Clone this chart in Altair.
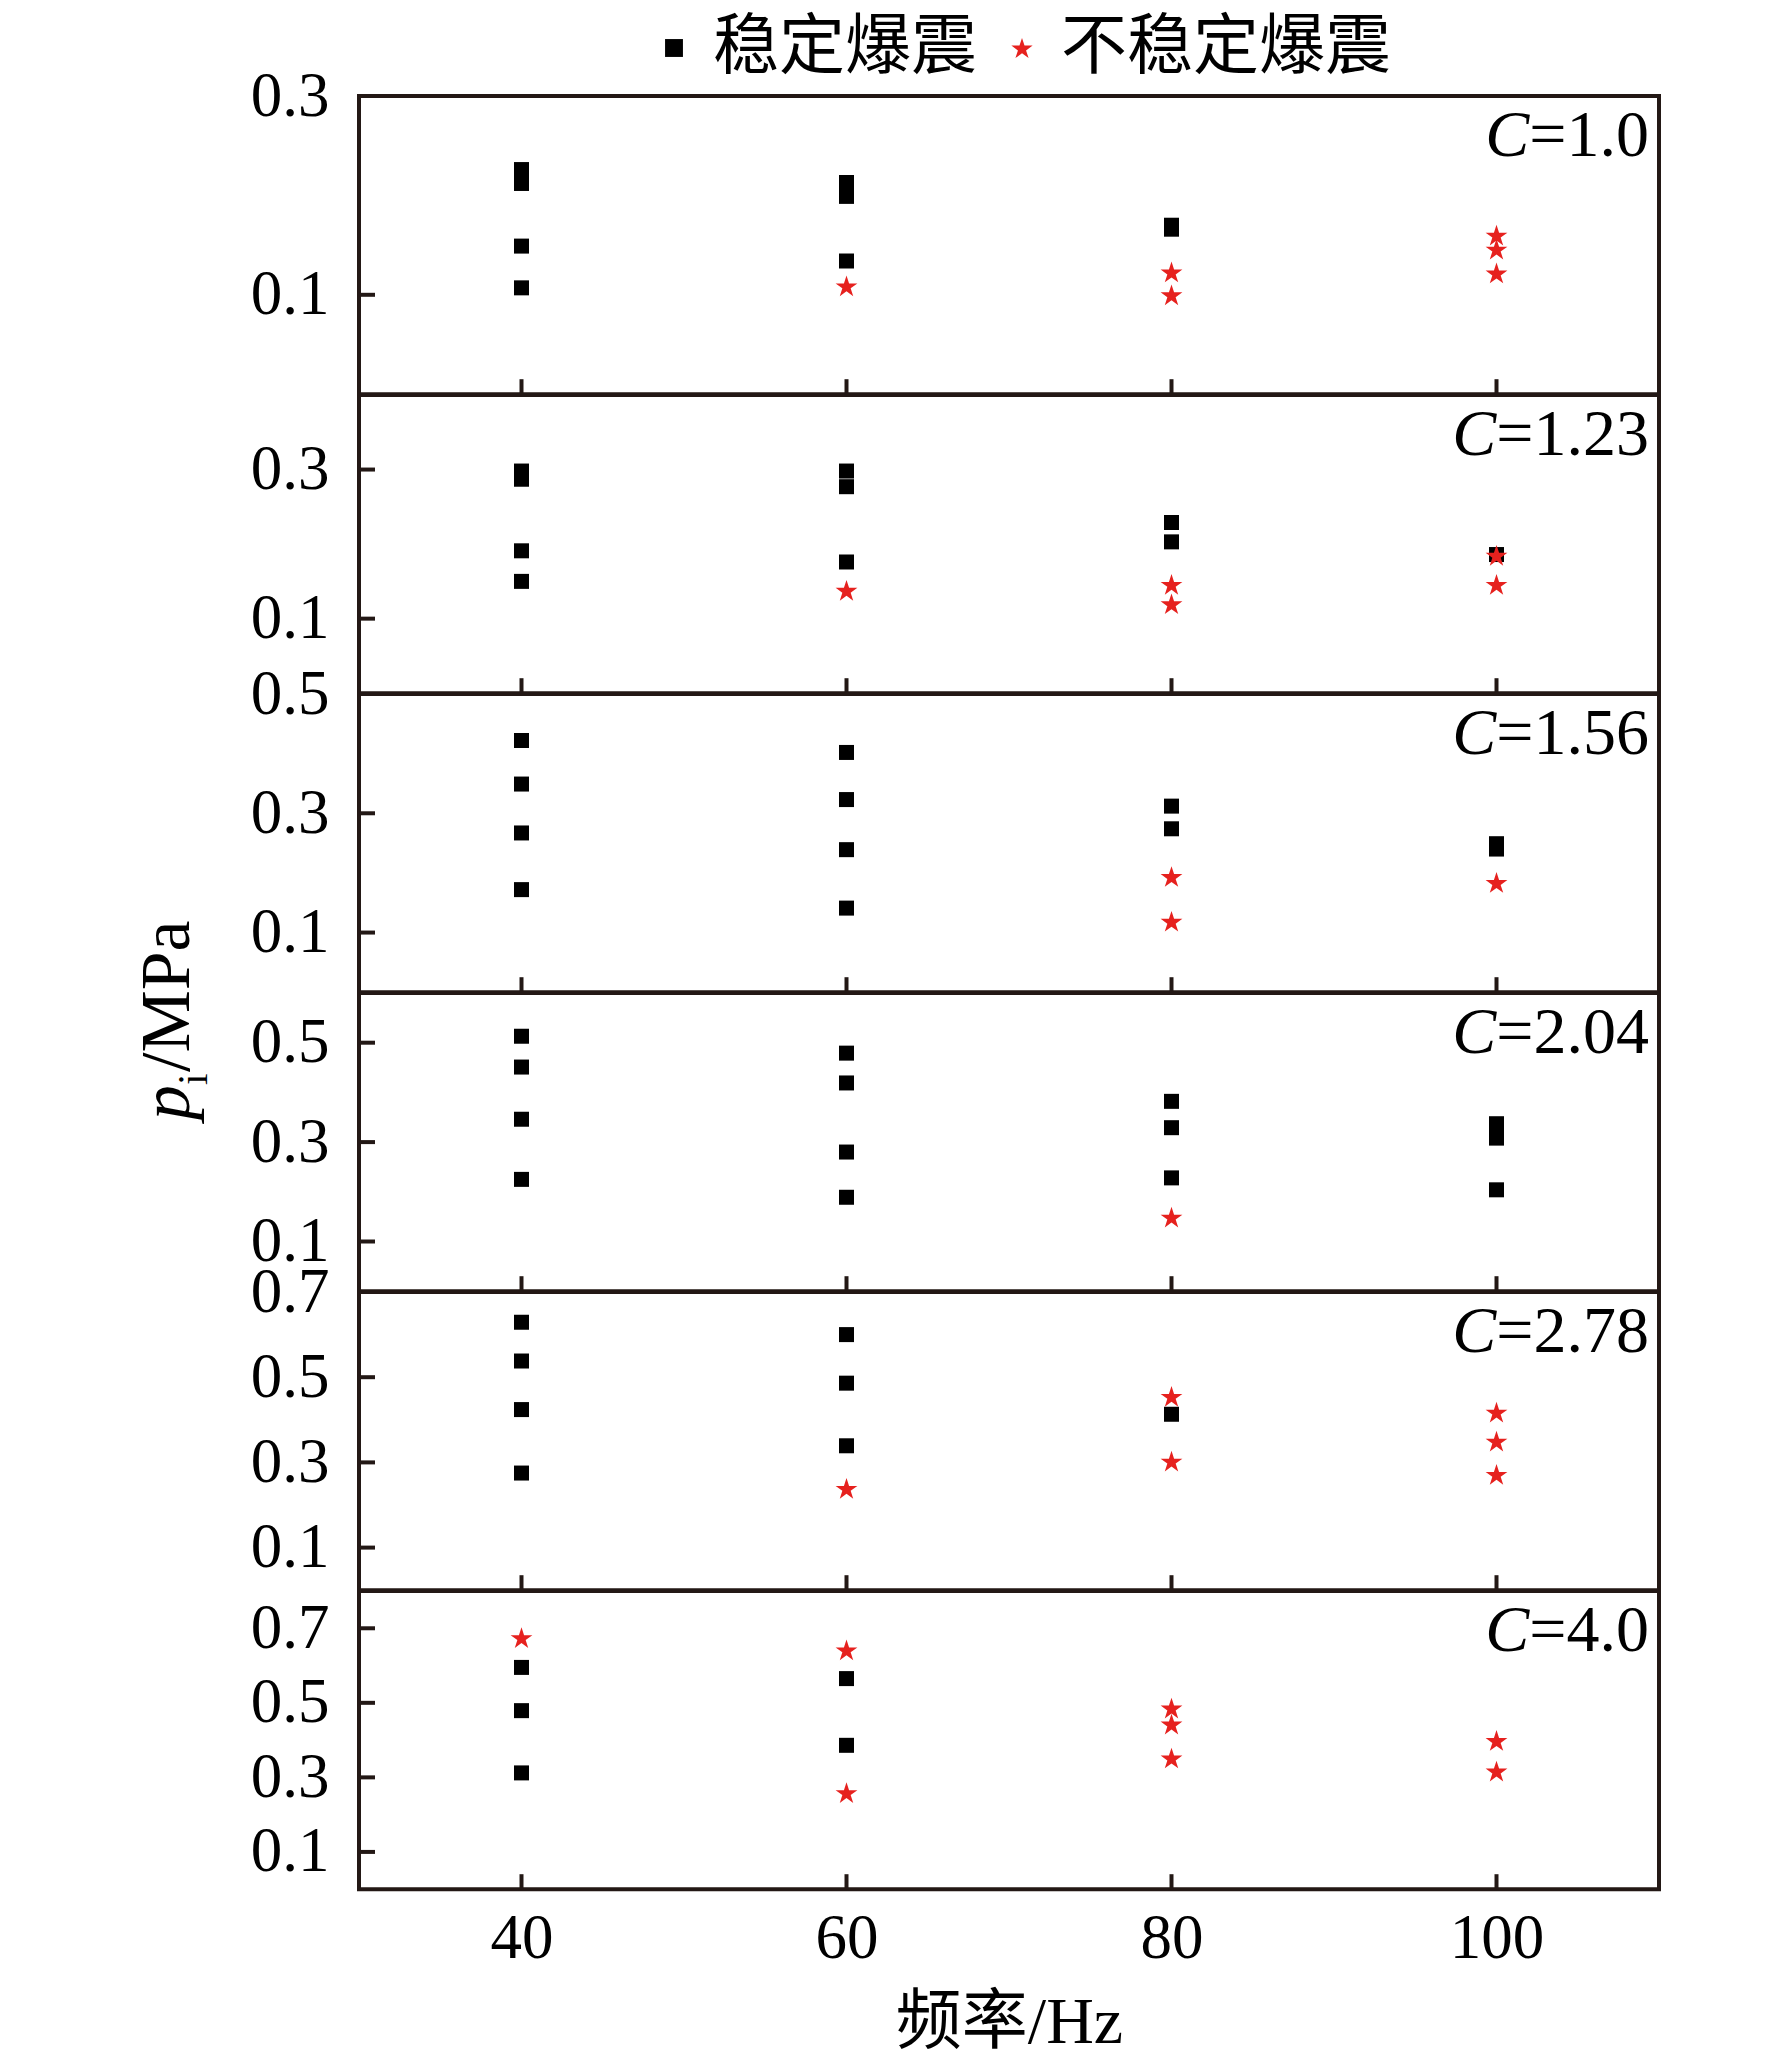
import altair as alt
import pandas as pd

# ---------------- data ----------------
FREQS = [40, 60, 80, 100]
C_LABELS = ["1.0", "1.23", "1.56", "2.04", "2.78", "4.0"]
Y_MAX = [0.3, 0.4, 0.5, 0.6, 0.7, 0.8]
Y_TICKS = [
    [0.1, 0.3],
    [0.1, 0.3],
    [0.1, 0.3, 0.5],
    [0.1, 0.3, 0.5],
    [0.1, 0.3, 0.5, 0.7],
    [0.1, 0.3, 0.5, 0.7],
]
KINDS = ["稳定爆震", "不稳定爆震"]

# stable detonation (black squares): {frequency: [p_i, ...]}
stable_c100 = {40: [0.226, 0.212, 0.149, 0.107], 60: [0.213, 0.199, 0.134], 80: [0.170, 0.166], 100: []}
stable_c123 = {40: [0.298, 0.287, 0.191, 0.150], 60: [0.298, 0.277, 0.176], 80: [0.229, 0.203], 100: [0.186]}
stable_c156 = {40: [0.422, 0.349, 0.267, 0.172], 60: [0.402, 0.323, 0.239, 0.141], 80: [0.312, 0.274], 100: [0.249, 0.240]}
stable_c204 = {40: [0.513, 0.451, 0.346, 0.225], 60: [0.479, 0.419, 0.280, 0.189], 80: [0.382, 0.329, 0.228], 100: [0.337, 0.308, 0.204]}
stable_c278 = {40: [0.629, 0.538, 0.424, 0.275], 60: [0.600, 0.486, 0.339], 80: [0.413], 100: []}
stable_c400 = {40: [0.595, 0.479, 0.312], 60: [0.565, 0.386], 80: [], 100: []}

# unstable detonation (red stars)
unstable_c100 = {40: [], 60: [0.109], 80: [0.123, 0.100], 100: [0.160, 0.146, 0.122]}
unstable_c123 = {40: [], 60: [0.138], 80: [0.146, 0.120], 100: [0.185, 0.146]}
unstable_c156 = {40: [], 60: [], 80: [0.194, 0.119], 100: [0.184]}
unstable_c204 = {40: [], 60: [], 80: [0.149], 100: []}
unstable_c278 = {40: [], 60: [0.239], 80: [0.455, 0.303], 100: [0.418, 0.350, 0.272]}
unstable_c400 = {40: [0.675], 60: [0.642, 0.259], 80: [0.486, 0.443, 0.352], 100: [0.399, 0.317]}

STABLE = [stable_c100, stable_c123, stable_c156, stable_c204, stable_c278, stable_c400]
UNSTABLE = [unstable_c100, unstable_c123, unstable_c156, unstable_c204, unstable_c278, unstable_c400]

# ---------------- style ----------------
W, H = 1300, 298.2
DARK = "#231815"
RED = "#e6211e"
SERIF = "Liberation Serif"
CJK = "Noto Sans CJK SC"
NUM_SIZE = 63
LAB_SIZE = 66

# five-pointed star, drawn a bit larger than the unit box so the legend star reads well
_k = 1.25
_pts = [(0, -0.905), (0.2245, -0.214), (0.951, -0.214), (0.363, 0.214), (0.588, 0.905),
        (0, 0.477), (-0.588, 0.905), (-0.363, 0.214), (-0.951, -0.214), (-0.2245, -0.214)]
STAR = "M" + " L".join(f"{x * _k:.4f},{y * _k:.4f}" for x, y in _pts) + " Z"

TIMES_W = {"=": 0.564, ".": 0.25}


def text_width(s, size):
    return sum(TIMES_W.get(ch, 0.5) for ch in s) * size


color_scale = alt.Scale(domain=KINDS, range=["#000000", RED])
shape_scale = alt.Scale(domain=KINDS, range=["square", STAR])
legend = alt.Legend(
    orient="none", legendX=282, legendY=-81, direction="horizontal", title=None,
    labelFont=CJK, labelFontSize=66, labelColor="black", labelLimit=1000,
    symbolSize=320, symbolStrokeWidth=0, labelOffset=6, columnPadding=12, padding=0,
)


def panel(i):
    rows = []
    for kind, src in ((KINDS[0], STABLE[i]), (KINDS[1], UNSTABLE[i])):
        for f in FREQS:
            for p in src[f]:
                rows.append({"freq": f, "p": p, "kind": kind})
    df = pd.DataFrame(rows)
    last = i == len(C_LABELS) - 1

    xs = alt.Scale(domain=[30, 110], nice=False, zero=False)
    ys = alt.Scale(domain=[0, Y_MAX[i]], nice=False, zero=False)
    if last:
        xaxis = alt.Axis(values=FREQS, format="d", title="频率/Hz", labelPadding=18,
                         titlePadding=20, titleFont=f"{SERIF}, {CJK}", titleFontSize=66,
                         titleFontWeight="normal", titleColor="black")
    else:
        xaxis = None
    yaxis = alt.Axis(values=Y_TICKS[i], format=".1f", title=None, labelPadding=30)
    X = alt.X("freq:Q", scale=xs, axis=xaxis)
    Y = alt.Y("p:Q", scale=ys, axis=yaxis)

    base = alt.Chart(df)
    enc = dict(
        x=X, y=Y,
        color=alt.Color("kind:N", scale=color_scale, legend=legend),
        shape=alt.Shape("kind:N", scale=shape_scale, legend=legend),
    )
    squares = base.transform_filter(alt.datum.kind == KINDS[0]).mark_point(
        filled=True, size=225, opacity=1, strokeWidth=0).encode(**enc)
    stars = base.transform_filter(alt.datum.kind == KINDS[1]).mark_point(
        filled=True, size=335, opacity=1, strokeWidth=0).encode(**enc)

    xticks = alt.Chart(alt.Data(values=[{"freq": f} for f in FREQS])).mark_rule(
        color=DARK, strokeWidth=4).encode(x=X, y=alt.value(H), y2=alt.value(H - 15))
    yticks = alt.Chart(alt.Data(values=[{"p": v} for v in Y_TICKS[i]])).mark_rule(
        color=DARK, strokeWidth=4).encode(y=Y, x=alt.value(0), x2=alt.value(16))

    rest = "=" + C_LABELS[i]
    split = W - 10 - text_width(rest, LAB_SIZE)
    lab_c = alt.Chart(alt.Data(values=[{"t": "C"}])).mark_text(
        font=SERIF, fontSize=LAB_SIZE, fontStyle="italic", align="right", baseline="alphabetic",
        color="black").encode(text="t:N", x=alt.value(split), y=alt.value(60))
    lab_r = alt.Chart(alt.Data(values=[{"t": rest}])).mark_text(
        font=SERIF, fontSize=LAB_SIZE, align="left", baseline="alphabetic",
        color="black").encode(text="t:N", x=alt.value(split), y=alt.value(60))

    layers = [squares, stars, xticks, yticks, lab_c, lab_r]

    if i == 3:
        t_p = alt.Chart(alt.Data(values=[{"t": "p"}])).mark_text(
            font=SERIF, fontSize=70, fontStyle="italic", angle=270, align="left",
            baseline="alphabetic", color="black").encode(
            text="t:N", x=alt.value(-170), y=alt.value(127))
        t_i = alt.Chart(alt.Data(values=[{"t": "i"}])).mark_text(
            font=SERIF, fontSize=42, angle=270, align="left",
            baseline="alphabetic", color="black").encode(
            text="t:N", x=alt.value(-152), y=alt.value(92))
        t_u = alt.Chart(alt.Data(values=[{"t": "/MPa"}])).mark_text(
            font=SERIF, fontSize=70, angle=270, align="left",
            baseline="alphabetic", color="black").encode(
            text="t:N", x=alt.value(-170), y=alt.value(79))
        layers += [t_p, t_i, t_u]

    return alt.layer(*layers).properties(width=W, height=H)


chart = alt.vconcat(
    *[panel(i) for i in range(len(C_LABELS))], spacing=0, bounds="flush"
).resolve_scale(
    color="shared", shape="shared"
).properties(
    padding={"left": 122, "top": 7, "right": 10, "bottom": 0}
).configure_view(
    stroke=DARK, strokeWidth=4
).configure_axis(
    labelFont=SERIF, labelFontSize=NUM_SIZE, labelColor="black", domain=False,
    ticks=False, grid=False, labelFlush=False, labelOverlap=False, labelBound=False,
)

chart.save("out.html", embed_options={"renderer": "svg", "actions": False})
